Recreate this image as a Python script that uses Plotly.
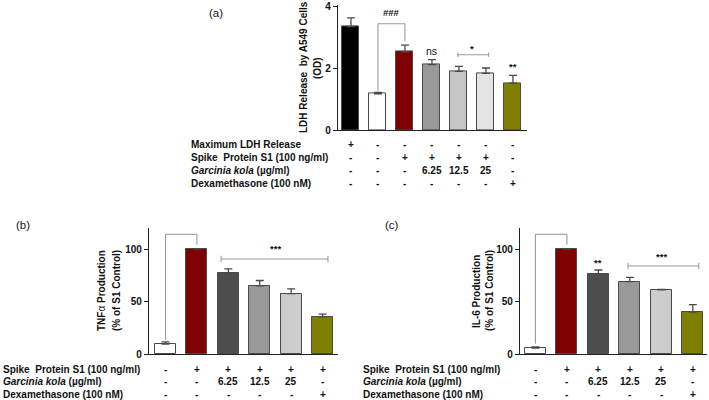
import plotly.graph_objects as go

W, H = 709, 400

# ---------------- data ----------------
a_values = [3.34, 1.17, 2.52, 2.11, 1.89, 1.83, 1.51]
a_errors = [0.28, 0.04, 0.22, 0.16, 0.16, 0.17, 0.25]
a_colors = ["#000000", "#ffffff", "#7f0000", "#999999", "#c6c6c6", "#e4e4e4", "#7f7f00"]
a_row_labels = ["Maximum LDH Release", "Spike  Protein S1 (100 ng/ml)",
                "<i>Garcinia kola</i> (\u00b5g/ml)", "Dexamethasone (100 nM)"]
a_rows = [["+", "-", "-", "-", "-", "-", "-"],
          ["-", "-", "+", "+", "+", "+", "-"],
          ["-", "-", "-", "6.25", "12.5", "25", "-"],
          ["-", "-", "-", "-", "-", "-", "+"]]
a_ticks = [0, 2, 4]

b_values = [9.5, 100, 77, 65, 57.5, 35.5]
b_errors = [2.0, 0, 4.0, 5.0, 4.5, 2.5]
c_values = [5.7, 100, 76, 69, 61, 40]
c_errors = [1.0, 0, 4.0, 4.0, 0.5, 7.0]
bc_ticks = [0, 50, 100]
bc_colors = ["#ffffff", "#7f0000", "#4d4d4d", "#999999", "#cccccc", "#7f7f00"]
bc_row_labels = ["Spike  Protein S1 (100 ng/ml)", "<i>Garcinia kola</i> (\u00b5g/ml)",
                 "Dexamethasone (100 nM)"]
bc_rows = [["-", "+", "+", "+", "+", "+"],
           ["-", "-", "6.25", "12.5", "25", "-"],
           ["-", "-", "-", "-", "-", "+"]]

FONT = "Liberation Sans, Arial, sans-serif"

def px(x):
    return x / W

def py(y):
    return 1 - y / H

fig = go.Figure()

def add_bars(vals, errs, cols, xa, ya, width):
    fig.add_trace(go.Bar(
        x=list(range(len(vals))), y=vals, width=width,
        marker=dict(color=cols, line=dict(color="#4a4a4a", width=1)),
        error_y=dict(type="data", symmetric=False, array=errs,
                     arrayminus=[0] * len(errs), color="#4a4a4a",
                     thickness=1.3, width=4),
        xaxis=xa, yaxis=ya, hoverinfo="skip"))

add_bars(a_values, a_errors, a_colors, "x", "y", 0.63)
add_bars(b_values, b_errors, bc_colors, "x2", "y2", 0.67)
add_bars(c_values, c_errors, bc_colors, "x3", "y3", 0.67)

axis_common = dict(showline=True, linecolor="#222", linewidth=1.3, showgrid=False,
                   zeroline=False, automargin=False)
yt = dict(ticks="outside", ticklen=4, tickwidth=1.2, tickcolor="#222",
          ticklabeloverflow="allow", tickmode="array",
          tickfont=dict(family=FONT, size=10, color="#111", weight="bold"))

fig.update_layout(
    template="none",
    width=W, height=H, margin=dict(l=0, r=0, t=0, b=0, pad=0),
    paper_bgcolor="white", plot_bgcolor="white", showlegend=False, bargap=0,
    font=dict(family=FONT, color="#111"),
    xaxis=dict(domain=[px(338), px(527)], range=[-0.48, 6.52], anchor="y",
               showticklabels=False, ticks="", **axis_common),
    yaxis=dict(domain=[py(130), py(5.4)], range=[0, 4.02], tickvals=a_ticks,
               ticktext=[str(t) for t in a_ticks], anchor="x",
               **yt, **axis_common),
    xaxis2=dict(domain=[px(149), px(338)], range=[-0.525, 5.49], anchor="y2",
                showticklabels=False, ticks="", **axis_common),
    yaxis2=dict(domain=[py(354), py(228)], range=[0, 120], tickvals=bc_ticks,
                anchor="x2", **yt, **axis_common),
    xaxis3=dict(domain=[px(520), px(707)], range=[-0.49, 5.45], anchor="y3",
                showticklabels=False, ticks="", **axis_common),
    yaxis3=dict(domain=[py(354), py(228)], range=[0, 120], tickvals=bc_ticks,
                anchor="x3", **yt, **axis_common),
)

ann = []
shapes = []

def text(x, y, s, xref="paper", yref="paper", size=10, bold=True, xanchor="center",
         angle=0, color="#111"):
    ann.append(dict(x=x, y=y, xref=xref, yref=yref, text=s, showarrow=False,
                    xanchor=xanchor, yanchor="middle", textangle=angle,
                    font=dict(family=FONT, size=size, color=color,
                              weight="bold" if bold else "normal")))

def line(x0, y0, x1, y1, xref, yref, color="#9a9a9a"):
    shapes.append(dict(type="line", x0=x0, y0=y0, x1=x1, y1=y1, xref=xref, yref=yref,
                       line=dict(color=color, width=1.1)))

# panel labels
text(px(216), py(13), "(a)", size=11.5, bold=False)
text(px(23), py(225), "(b)", size=11.5, bold=False)
text(px(392), py(225), "(c)", size=11.5, bold=False)

# y-axis titles
text(px(303), py(67), "LDH Release  by A549 Cells", size=10, angle=-90)
text(px(317), py(68), "(OD)", size=10, angle=-90)
text(px(101), py(291), "<b>TNF</b>\u03b1<b> Production</b>", size=10, bold=False, angle=-90)
text(px(116), py(291), "(% of S1 Control)", size=10, angle=-90)
text(px(476), py(291), "IL-6 Production", size=10, angle=-90)
text(px(489), py(291), "(% of S1 Control)", size=10, angle=-90)

# condition tables
a_row_y = [144, 157, 170, 183]
for lab, ry, row in zip(a_row_labels, a_row_y, a_rows):
    text(px(189), py(ry), lab, xanchor="left")
    for i, s in enumerate(row):
        text(i, py(ry), s, xref="x")

bc_row_y = [369, 381, 394]
for lab, ry, row in zip(bc_row_labels, bc_row_y, bc_rows):
    text(px(1), py(ry), lab, xanchor="left")
    text(px(361), py(ry), lab, xanchor="left")
    for i, s in enumerate(row):
        text(i, py(ry), s, xref="x2")
        text(i, py(ry), s, xref="x3")

# significance marks - panel (a)
top_a = [v + e for v, e in zip(a_values, a_errors)]
ya_br = 3.43
line(1, top_a[1] + 0.06, 1, ya_br, "x", "y")
line(1, ya_br, 2, ya_br, "x", "y")
line(2, ya_br, 2, top_a[2] + 0.12, "x", "y")
text(1.5, ya_br + 0.36, "###", xref="x", yref="y", size=9.5)
text(3, top_a[3] + 0.27, "ns", xref="x", yref="y", size=10.5, bold=False)
line(3.96, 2.43, 5.1, 2.43, "x", "y")
line(3.96, 2.36, 3.96, 2.50, "x", "y")
line(5.1, 2.36, 5.1, 2.50, "x", "y")
text(4.5, 2.62, "*", xref="x", yref="y", size=9.5)
text(6, top_a[6] + 0.3, "**", xref="x", yref="y", size=9.5)

# panel (b)
top_b = [v + e for v, e in zip(b_values, b_errors)]
line(0, top_b[0] + 2, 0, 114, "x2", "y2")
line(0, 114, 1, 114, "x2", "y2")
line(1, 114, 1, 104, "x2", "y2")
text(0.5, 123, "###", xref="x2", yref="y2", size=9.5)
line(1.77, 90.5, 5.17, 90.5, "x2", "y2")
line(1.77, 87.5, 1.77, 93.5, "x2", "y2")
line(5.17, 87.5, 5.17, 93.5, "x2", "y2")
text(3.49, 100, "***", xref="x2", yref="y2", size=9.5)

# panel (c)
top_c = [v + e for v, e in zip(c_values, c_errors)]
line(0, top_c[0] + 3, 0, 114, "x3", "y3")
line(0, 114, 1, 114, "x3", "y3")
line(1, 114, 1, 104, "x3", "y3")
text(0.5, 123, "###", xref="x3", yref="y3", size=9.5)
text(2, top_c[2] + 7, "**", xref="x3", yref="y3", size=9.5)
line(2.94, 83.8, 5.19, 83.8, "x3", "y3")
line(2.94, 80.8, 2.94, 86.8, "x3", "y3")
line(5.19, 80.8, 5.19, 86.8, "x3", "y3")
text(4.0, 93, "***", xref="x3", yref="y3", size=9.5)

fig.update_layout(annotations=ann, shapes=shapes)
fig.write_html("out.html", config={"displayModeBar": False},
               post_script="document.body.style.margin='0';document.body.style.padding='0';")
